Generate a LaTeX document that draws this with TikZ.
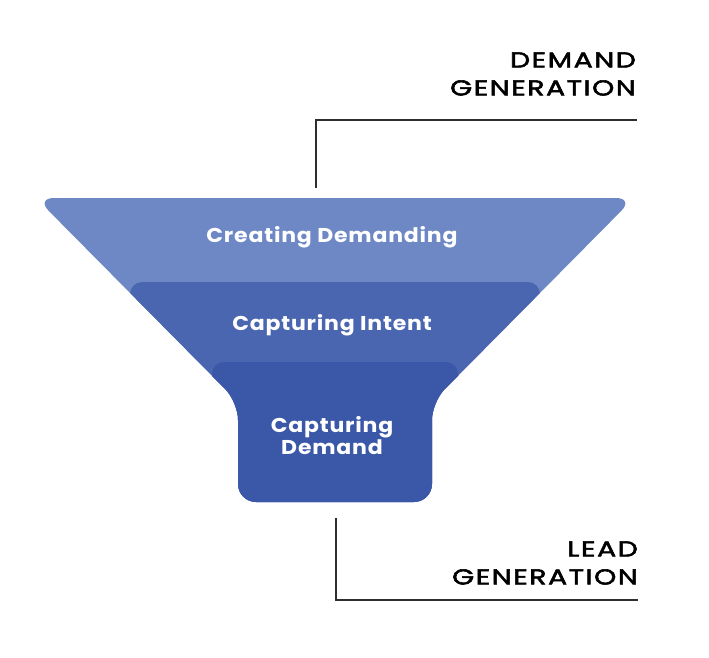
\documentclass[tikz,border=0pt]{standalone}
\usepackage{fontspec}
\setmainfont{Poppins}
\newfontfamily\labelfont[LetterSpace=7,FakeStretch=1.32,FakeBold=2.5]{Poppins}
\newfontfamily\stagefont[LetterSpace=4,FakeStretch=1.1]{Poppins}
\definecolor{lightf}{HTML}{6E88C5}
\definecolor{midf}{HTML}{4B66B0}
\definecolor{darkf}{HTML}{3B57A7}
\definecolor{linec}{HTML}{2E2E2E}
\begin{document}
\begin{tikzpicture}[x=1pt,y=-1pt,
  stagetext/.style={text=white,font=\stagefont\bfseries\fontsize{20}{22}\selectfont,align=center,inner sep=0pt},
  sidelabel/.style={anchor=east,text=black,font=\labelfont\fontsize{21.5}{28}\selectfont,align=right,inner sep=0pt},
  leader/.style={draw=linec,line width=1.6pt}]
\useasboundingbox (0,0) rectangle (709,657);
% funnel outline
\begin{scope}
\clip[rounded corners=18pt] (36,198) -- (634,198) -- (432,402) -- (432,502) -- (238,502) -- (238,402) -- cycle;
\fill[lightf] (0,150) rectangle (709,560);
\fill[midf, rounded corners=12pt] (130,282) rectangle (540,600);
\fill[darkf, rounded corners=12pt] (212,362) rectangle (458,600);
\end{scope}
\node[stagetext] (s1) at (332,237) {Creating Demanding};
\node[stagetext] (s2) at (332,325) {Capturing Intent};
\node[stagetext] (s3) at (332,436) {Capturing\\Demand};
% labels
\node[sidelabel] (dg) at (636,74) {DEMAND\\GENERATION};
\node[sidelabel] (lg) at (638,563) {LEAD\\GENERATION};
% leaders
\coordinate (t1) at (316,188);
\coordinate (t2) at (316,120);
\coordinate (t3) at (637,120);
\draw[leader] (t1) -- (t2) -- (t3);
\coordinate (b1) at (336,518);
\coordinate (b2) at (336,600);
\coordinate (b3) at (638,600);
\draw[leader] (b1) -- (b2) -- (b3);
\end{tikzpicture}
\end{document}
